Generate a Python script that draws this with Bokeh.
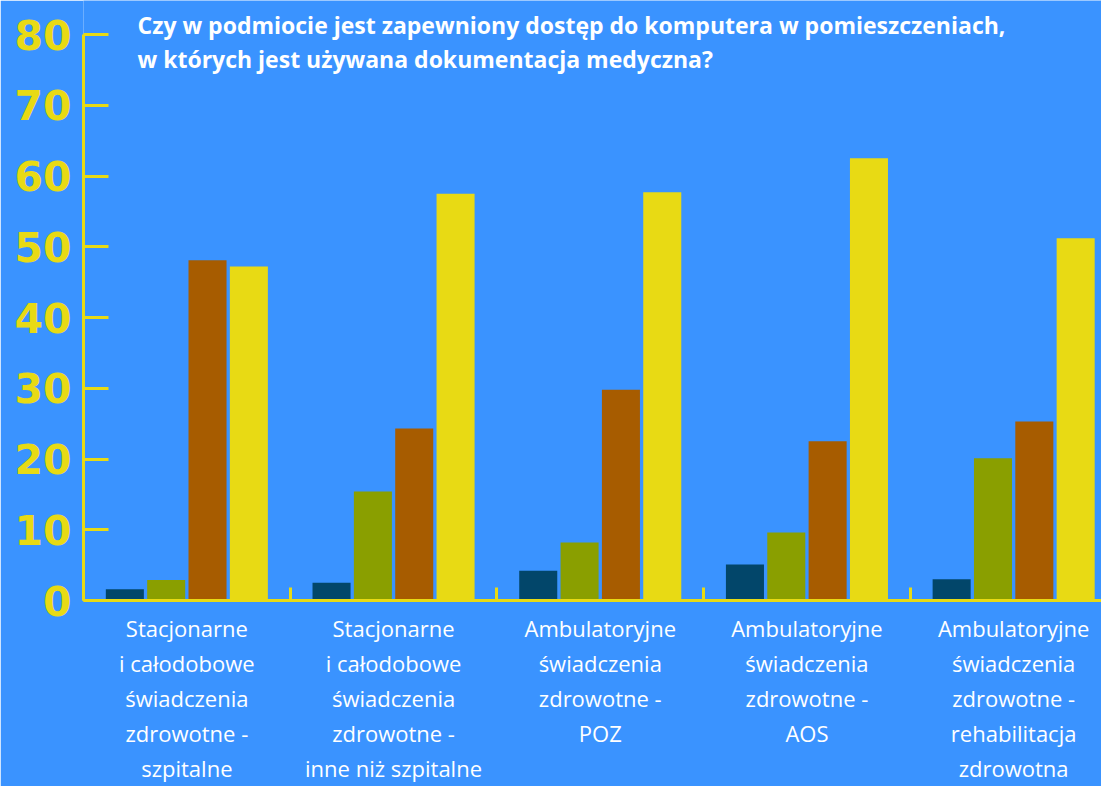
from bokeh.plotting import figure
from bokeh.models import Range1d, FixedTicker, ColumnDataSource, Label
from bokeh.transform import dodge
from bokeh.embed import file_html
from bokeh.resources import INLINE

categories = [
    "Stacjonarne\ni całodobowe\nświadczenia\nzdrowotne -\nszpitalne",
    "Stacjonarne\ni całodobowe\nświadczenia\nzdrowotne -\ninne niż szpitalne",
    "Ambulatoryjne\nświadczenia\nzdrowotne -\nPOZ",
    "Ambulatoryjne\nświadczenia\nzdrowotne -\nAOS",
    "Ambulatoryjne\nświadczenia\nzdrowotne -\nrehabilitacja\nzdrowotna",
]
series_1 = [1.6, 2.5, 4.2, 5.1, 3.0]
series_2 = [2.9, 15.4, 8.2, 9.6, 20.1]
series_3 = [48.1, 24.3, 29.8, 22.5, 25.3]
series_4 = [47.2, 57.5, 57.7, 62.5, 51.2]
y_ticks = [0, 10, 20, 30, 40, 50, 60, 70, 80]
title_lines = [
    "Czy w podmiocie jest zapewniony dostęp do komputera w pomieszczeniach,",
    "w których jest używana dokumentacja medyczna?",
]

BG = "#3a93ff"
YELLOW = "#e8da14"
colors = ["#02466a", "#8a9f00", "#a75c00", "#e8da14"]

centers = [i + 0.5 for i in range(len(categories))]
bounds = [float(i) for i in range(len(categories) + 1)]

source = ColumnDataSource(dict(x=centers, s1=series_1, s2=series_2, s3=series_3, s4=series_4))

# frame spans the full canvas height above the axis; 80 sits 34px below the top
y_end = 80 * 600 / 566

p = figure(width=1101, height=786, x_range=Range1d(0, 4.925), y_range=Range1d(0, y_end),
           output_backend="svg", toolbar_location=None,
           background_fill_color=BG, border_fill_color=BG,
           min_border_left=83, min_border_right=0, min_border_top=0, min_border_bottom=186)
p.outline_line_color = None
p.grid.visible = False

offsets = [-0.3, -0.1, 0.1, 0.3]
for col, off, c in zip(["s1", "s2", "s3", "s4"], offsets, colors):
    p.vbar(x=dodge("x", off, range=p.x_range), top=col, width=0.184, bottom=0,
           source=source, fill_color=c, line_color=None)

ya = p.yaxis[0]
ya.ticker = FixedTicker(ticks=y_ticks)
ya.bounds = (0, 80)
ya.major_tick_in = 25
ya.major_tick_out = 0
ya.minor_tick_in = 0
ya.minor_tick_out = 0
ya.axis_line_color = YELLOW
ya.axis_line_width = 3
ya.major_tick_line_color = YELLOW
ya.major_tick_line_width = 3
ya.major_label_text_color = YELLOW
ya.major_label_text_font = "DejaVu Sans"
ya.major_label_text_font_style = "bold"
ya.major_label_text_font_size = "41px"
ya.major_label_standoff = 12

xa = p.xaxis[0]
xa.ticker = FixedTicker(ticks=centers, minor_ticks=bounds)
xa.major_label_overrides = {c: lab for c, lab in zip(centers, categories)}
xa.major_tick_in = 0
xa.major_tick_out = 0
xa.minor_tick_in = 13
xa.minor_tick_out = 0
xa.minor_tick_line_color = YELLOW
xa.minor_tick_line_width = 3
xa.axis_line_color = YELLOW
xa.axis_line_width = 3
xa.major_label_text_color = "white"
xa.major_label_text_font = "Open Sans"
xa.major_label_text_font_size = "22px"
xa.major_label_text_line_height = 1.17
xa.major_label_standoff = 12

for i, t in enumerate(title_lines):
    p.add_layout(Label(x=54, y=576 - 34 * i, x_units="screen", y_units="screen", text=t,
                       text_color="white", text_font="Open Sans", text_font_style="bold",
                       text_font_size="23px", text_baseline="middle"))

open("out.html", "w").write(file_html(p, INLINE))
